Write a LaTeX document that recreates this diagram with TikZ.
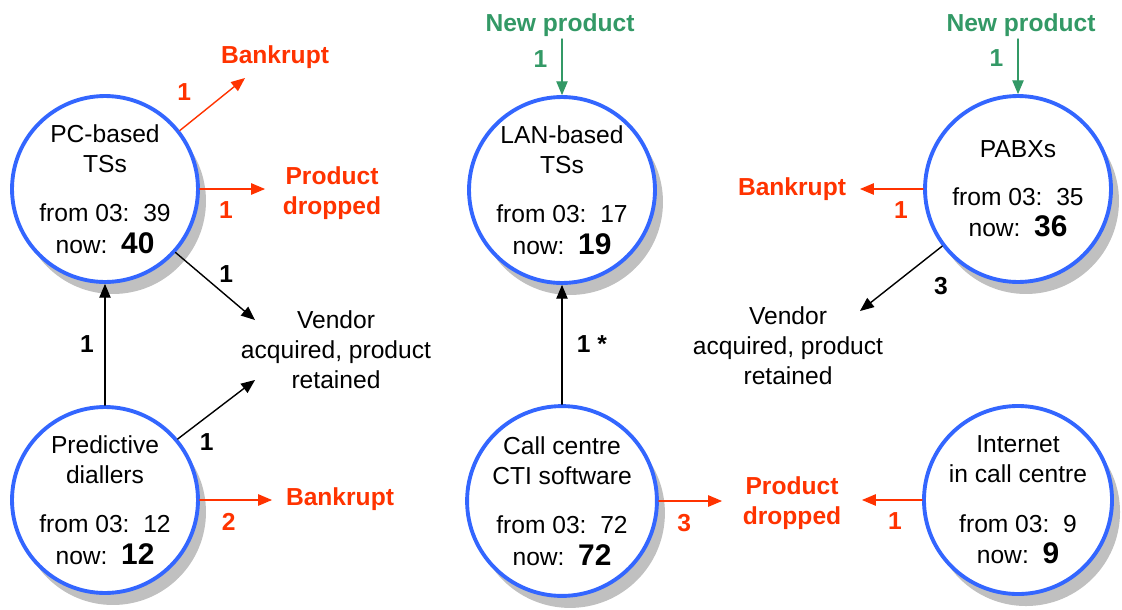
\documentclass[tikz,border=0pt]{standalone}
\usepackage{fontspec}
\setmainfont{Liberation Sans}
\usetikzlibrary{arrows,shadows,positioning}

\definecolor{ringblue}{HTML}{3366FF}
\definecolor{lossred}{HTML}{FF3300}
\definecolor{gaingreen}{HTML}{339966}
\definecolor{shadegrey}{HTML}{C0C0C0}
\newcommand{\textsz}{\fontsize{14}{17}\selectfont}
\newcommand{\nowval}[1]{{\fontsize{17}{17}\selectfont\bfseries #1}}

\tikzset{
  segment/.style={circle,draw=ringblue,line width=2.2pt,fill=white,minimum size=3.72cm,
    inner sep=0pt,align=center,font=\textsz,
    general shadow={fill=shadegrey,shadow xshift=0.16cm,shadow yshift=-0.24cm}},
  note/.style={align=center,inner sep=1pt,font=\textsz},
  loss/.style={note,text=lossred,font=\textsz\bfseries},
  gain/.style={note,text=gaingreen,font=\textsz\bfseries},
  count/.style={font=\textsz\bfseries,inner sep=2pt},
  flow/.style={->,line width=0.8pt}
}

\begin{document}
\begin{tikzpicture}[x=0.02cm,y=-0.02cm,line cap=round,line join=round,>=triangle 45]
  \useasboundingbox (0,0) rectangle (1122,609);

  % segments
  \node[segment] (pc) at (105,189) {PC-based\\TSs\\[11pt]from 03:\ \ 39\\[1pt]now:\ \ \nowval{40}};
  \node[segment] (pred) at (105,500) {Predictive\\diallers\\[11pt]from 03:\ \ 12\\[1pt]now:\ \ \nowval{12}};
  \node[segment] (lan) at (562,190) {LAN-based\\TSs\\[11pt]from 03:\ \ 17\\[1pt]now:\ \ \nowval{19}};
  \node[segment] (cti) at (562,501) {Call centre\\CTI software\\[11pt]from 03:\ \ 72\\[1pt]now:\ \ \nowval{72}};
  \node[segment] (pabx) at (1018,189) {PABXs\\[10pt]from 03:\ \ 35\\[1pt]now:\ \ \nowval{36}};
  \node[segment] (web) at (1018,500) {Internet\\in call centre\\[11pt]from 03:\ \ 9\\[1pt]now:\ \ \nowval{9}};

  % outcomes
  \node[loss] (bk1) at (275,57) {Bankrupt};
  \node[loss] (pd1) at (332,193) {Product\\dropped};
  \node[note] (vd1) at (336,350) {Vendor\\acquired, product\\retained};
  \node[loss] (bk2) at (340,499) {Bankrupt};
  \node[gain] (np1) at (560,25) {New product};
  \node[loss] (pd2) at (792,503) {Product\\dropped};
  \node[gain] (np2) at (1021,25) {New product};
  \node[loss] (bk3) at (792,189) {Bankrupt};
  \node[note] (vd2) at (788,346) {Vendor\\acquired, product\\retained};

  % arrow ends
  \coordinate (pcbk) at (245,78);
  \coordinate (pcpd) at (265,189);
  \coordinate (pcvd) at (255,320);
  \coordinate (prvd) at (255,380);
  \coordinate (prbk) at (272,500);
  \coordinate (lantop) at (562,39);
  \coordinate (ctipd) at (722,501);
  \coordinate (webpd) at (862,500);
  \coordinate (pabxtop) at (1018,39);
  \coordinate (pabxbk) at (860,189);
  \coordinate (pabxvd) at (860,311);

  \draw[flow,lossred] (pc.38) -- (pcbk) node[pos=0.4,above left=3pt and 6pt,count] {1};
  \draw[flow,lossred] (pc.east) -- (pcpd) node[pos=0.4,below=5pt,count] {1};
  \draw[flow] (pc.-42) -- (pcvd) node[midway,above right,count] {1};
  \draw[flow] (pred.north) -- (pc.south) node[midway,left=4pt,count] {1};
  \draw[flow] (pred.40) -- (prvd) node[pos=0.2,below right=2pt,count] {1};
  \draw[flow,lossred] (pred.east) -- (prbk) node[pos=0.4,below=5pt,count] {2};
  \draw[flow,gaingreen] (lantop) -- (lan.north) node[pos=0.35,left=6pt,count] {1};
  \draw[flow] (cti.north) -- (lan.south) node[midway,right=6pt,count] {1 *};
  \draw[flow,lossred] (cti.east) -- (ctipd) node[pos=0.4,below=5pt,count] {3};
  \draw[flow,lossred] (web.west) -- (webpd) node[pos=0.45,below=5pt,count] {1};
  \draw[flow,gaingreen] (pabxtop) -- (pabx.north) node[pos=0.35,left=6pt,count] {1};
  \draw[flow,lossred] (pabx.west) -- (pabxbk) node[pos=0.35,below=5pt,count] {1};
  \draw[flow] (pabx.217) -- (pabxvd) node[pos=0.15,below right=10pt and 0pt,count] {3};
\end{tikzpicture}
\end{document}
